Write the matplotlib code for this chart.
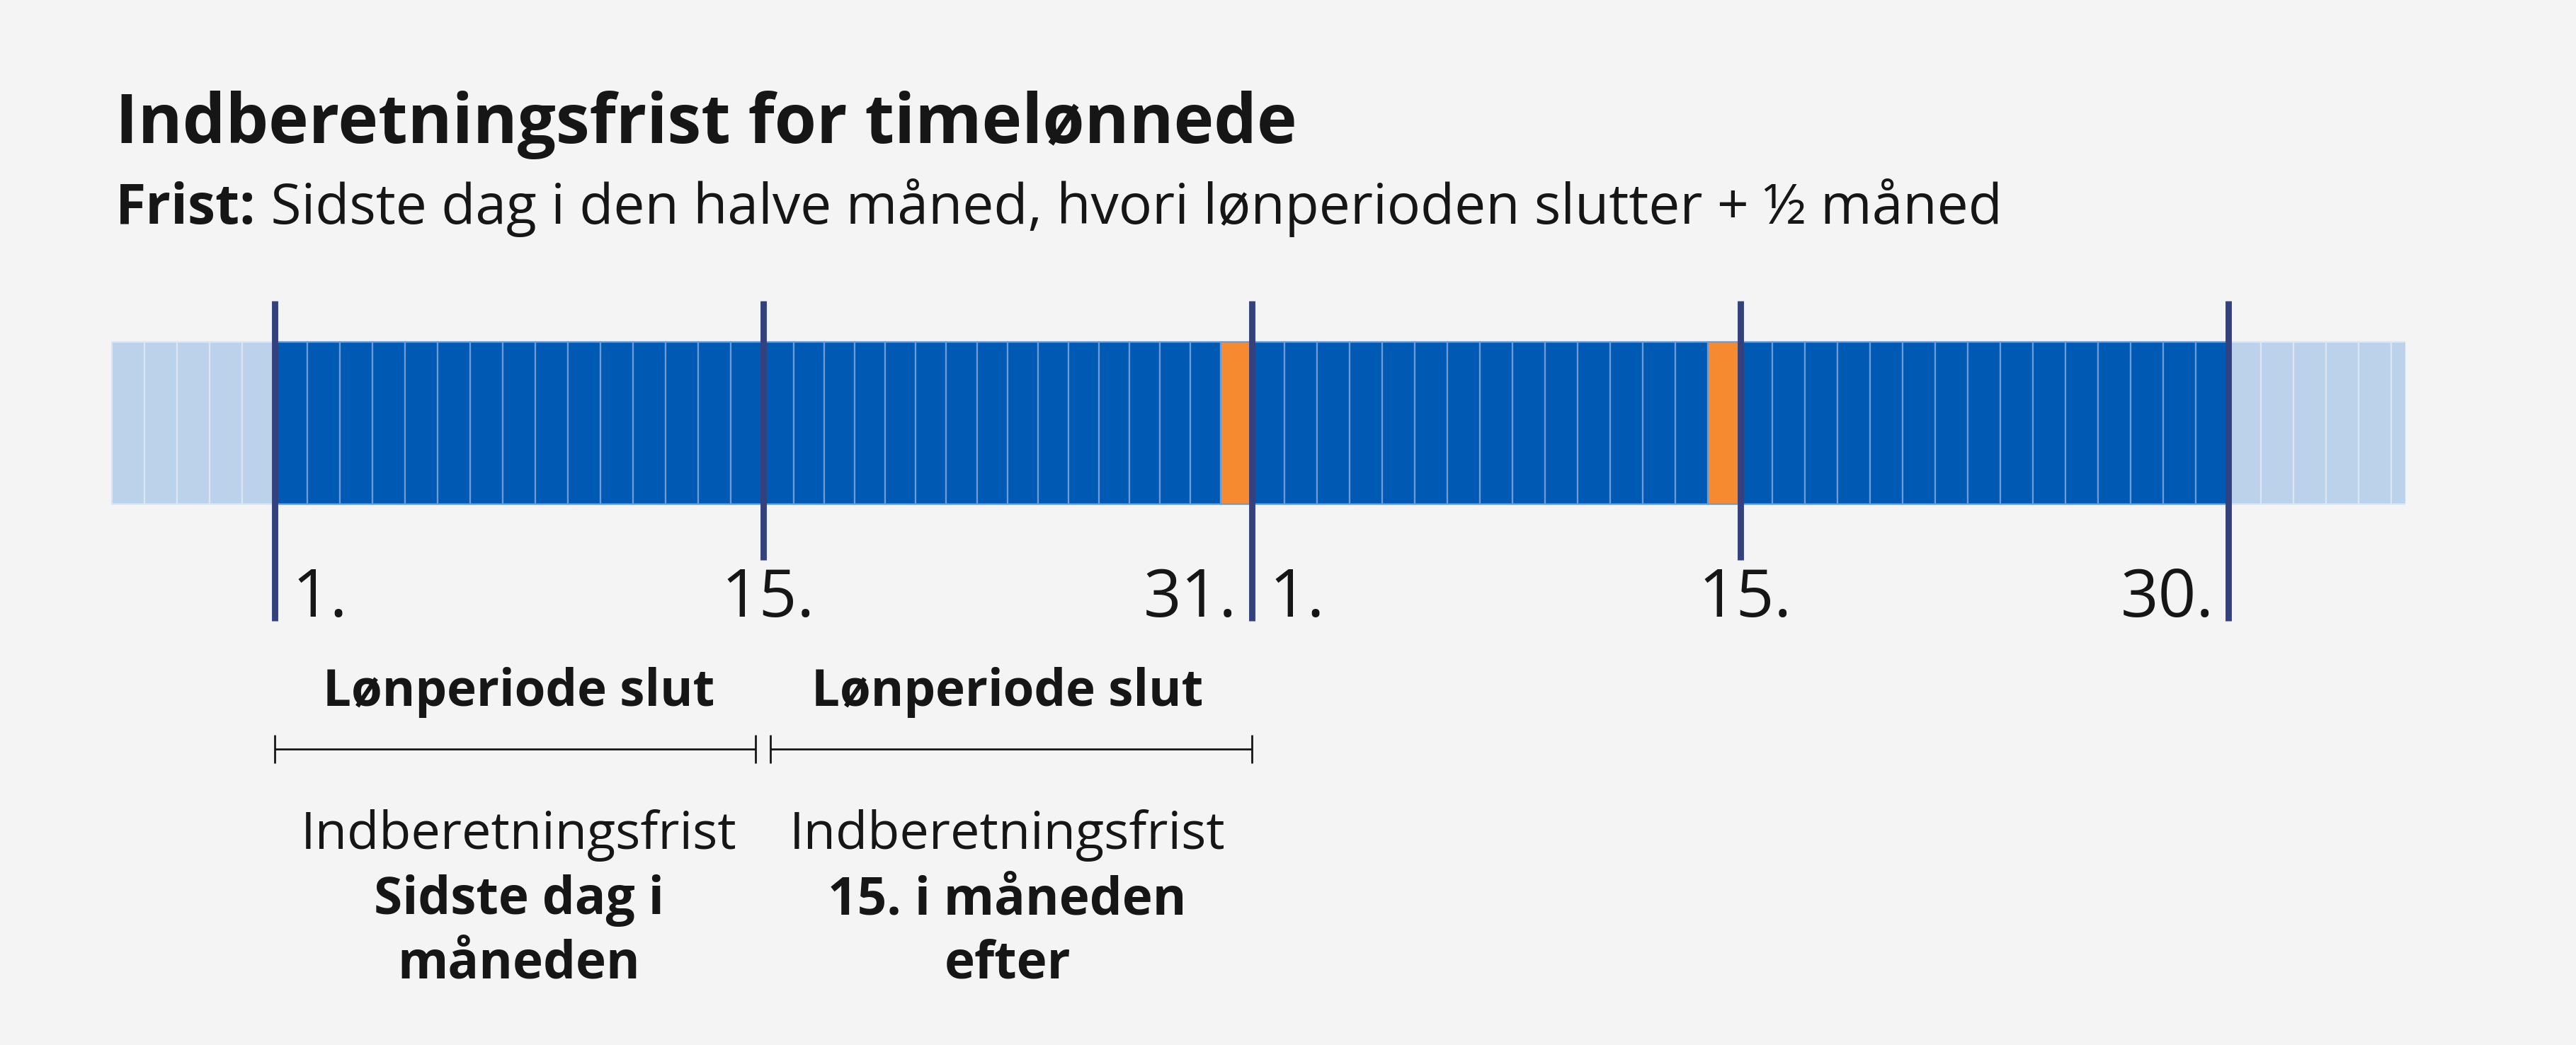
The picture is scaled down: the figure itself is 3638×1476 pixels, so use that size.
import matplotlib
matplotlib.use("Agg")
import matplotlib.pyplot as plt
from matplotlib.patches import Rectangle

# ---------------- data ----------------
month_lengths = [31, 30]              # the two months on the timeline
half_month_end = 15                   # first half of a month ends on the 15th
lead_days = 5                         # faded days before month 1
trail_days = 6                        # faded days after month 2
deadline_days = [(0, 31), (1, 15)]    # (month index, day) shown in orange
boundary_labels = ["1.", "15.", "31.", "1.", "15.", "30."]
boundary_pos = [0, 1, 2, 2, 3, 4]     # half-month boundary each label belongs to
boundary_align = ["left", "center", "right", "left", "center", "right"]
period_titles = ["Lønperiode slut", "Lønperiode slut"]
deadline_intro = ["Indberetningsfrist", "Indberetningsfrist"]
deadline_text = [["Sidste dag i", "måneden"], ["15. i måneden", "efter"]]
title = "Indberetningsfrist for timelønnede"
subtitle_bold = "Frist:"
subtitle_rest = "Sidste dag i den halve måned, hvori lønperioden slutter + ½ måned"

# ---------------- style ----------------
BG = "#F4F4F4"
DARK = "#0059B3"
DARK_EDGE = "#6C9CD8"
FADED = "#BCD2EA"
FADED_EDGE = "#DCE6F2"
ORANGE = "#F58A30"
LINE = "#33427E"
TXT = "#161616"
FONT = "Open Sans"

W, H, DPI = 3638, 1476, 200
ORIGIN_PX, UNIT_PX = 387.8, 689.9      # pixel of day 1 and width of a half month

fig = plt.figure(figsize=(W / DPI, H / DPI), dpi=DPI, facecolor=BG)
ax = fig.add_axes([0, 0, 1, 1])
ax.set_facecolor(BG)
ax.set_xlim(-ORIGIN_PX / UNIT_PX, (W - ORIGIN_PX) / UNIT_PX)
ax.set_ylim(H, 0)
ax.axis("off")

# ---------------- cells ----------------
lefts, widths, colors, edges = [], [], [], []
for i in range(lead_days):
    w = 1 / 15
    lefts.append(-(lead_days - i) * w); widths.append(w)
    colors.append(FADED); edges.append(FADED_EDGE)
for m, n in enumerate(month_lengths):
    for d in range(1, n + 1):
        if d <= half_month_end:
            w = 1 / half_month_end
            left = 2 * m + (d - 1) * w
        else:
            w = 1 / (n - half_month_end)
            left = 2 * m + 1 + (d - half_month_end - 1) * w
        lefts.append(left); widths.append(w)
        colors.append(ORANGE if (m, d) in deadline_days else DARK)
        edges.append(DARK_EDGE)
for i in range(trail_days):
    w = 1 / 15
    lefts.append(2 * len(month_lengths) + i * w); widths.append(w)
    colors.append(FADED); edges.append(FADED_EDGE)

BAR_TOP, BAR_H = 483, 229
bars = ax.bar(lefts, BAR_H, width=widths, bottom=BAR_TOP, align="edge",
              color=colors, edgecolor=edges, linewidth=0.8, zorder=2)
clip = Rectangle((-1, 0), 1 + 4.362, H, transform=ax.transData,
                 facecolor="none", edgecolor="none")
ax.add_patch(clip)
for b in bars:
    b.set_clip_path(clip)

# ---------------- boundary lines ----------------
n_bounds = 2 * len(month_lengths) + 1
xs = list(range(n_bounds))
bottoms = [877 if x % 2 == 0 else 791 for x in xs]
ax.vlines(xs, 425, bottoms, colors=LINE, linewidth=3.2, zorder=4,
          capstyle="butt")

# ---------------- boundary labels ----------------
offs = {"left": 9.0, "center": 2.5, "right": -7.5}
for lab, pos, al in zip(boundary_labels, boundary_pos, boundary_align):
    ax.annotate(lab, xy=(pos, 871), xytext=(offs[al], 0),
                textcoords="offset points", ha=al, va="baseline",
                fontsize=33.8, family=FONT, color=TXT)

# ---------------- brackets ----------------
gap = 0.015
BR_Y, TICK = 1058, 20
for k in range(2):
    x0 = k + (gap if k > 0 else 0)
    x1 = k + 1 - (gap if k == 0 else 0)
    ax.plot([x0, x1], [BR_Y, BR_Y], color=TXT, linewidth=1.0,
            solid_capstyle="butt")
    ax.vlines([x0, x1], BR_Y - TICK, BR_Y + TICK, colors=TXT, linewidth=1.0)
    cx = k + 0.5
    ax.text(cx, 997, period_titles[k], ha="center", va="baseline",
            fontsize=25.5, fontweight="bold", family=FONT, color=TXT)
    ax.text(cx, 1199, deadline_intro[k], ha="center", va="baseline",
            fontsize=26.6, family=FONT, color=TXT)
    for j, line in enumerate(deadline_text[k]):
        ax.text(cx, 1291 + j * 91, line, ha="center", va="baseline",
                fontsize=26.2, fontweight="bold", family=FONT, color=TXT)

# ---------------- title ----------------
fig.text(163 / W, 1 - 202 / H, title, ha="left", va="baseline",
         fontsize=34.5, fontweight="bold", family=FONT, color=TXT)
t1 = fig.text(163 / W, 1 - 316 / H, subtitle_bold, ha="left", va="baseline",
              fontsize=28.3, fontweight="bold", family=FONT, color=TXT)
ax.annotate(" " + subtitle_rest, xy=(1, 0), xycoords=t1, ha="left",
            va="bottom", fontsize=28.3, family=FONT, color=TXT)

fig.savefig("out.png", dpi=DPI, facecolor=BG)
